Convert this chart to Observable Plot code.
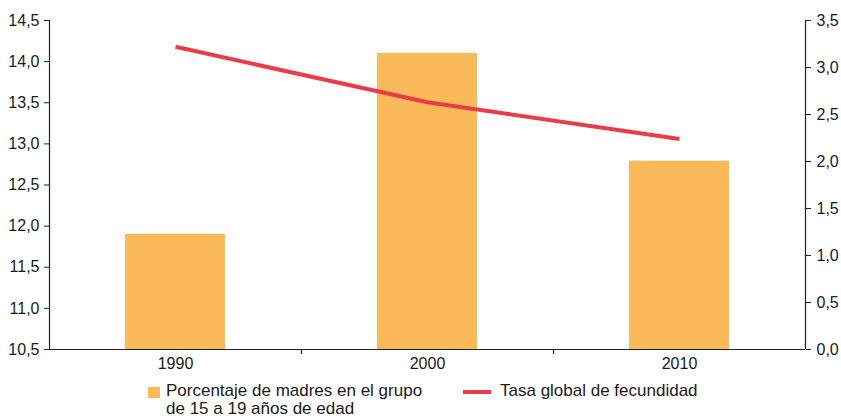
<!DOCTYPE html>
<html><head><meta charset="utf-8">
<script src="https://cdn.jsdelivr.net/npm/d3@7"></script>
<script src="https://cdn.jsdelivr.net/npm/@observablehq/plot@0.6"></script>
<style>
body{margin:0;background:#fff;font-family:"Liberation Sans",Arial,sans-serif;overflow:hidden;}
#chart svg{display:block;}
#legend{position:relative;height:44px;font-size:17px;color:#1a1a1a;line-height:18px;}
.sw{position:absolute;left:148px;top:12px;width:12px;height:11px;background:#FBBA5A;}
.t1{position:absolute;left:166px;top:7px;}
.ln{position:absolute;left:463px;top:15px;width:28px;height:4px;background:#EB3B46;}
.t2{position:absolute;left:500px;top:7px;}
</style></head><body>
<div id="chart"></div>
<div id="legend">
  <div class="sw"></div><div class="t1">Porcentaje de madres en el grupo<br>de 15 a 19 años de edad</div>
  <div class="ln"></div><div class="t2">Tasa global de fecundidad</div>
</div>
<script>
const years = ["1990", "2000", "2010"];
const madres = [11.90, 14.10, 12.79];
const tasa = [3.22, 2.63, 2.24];
const leftTicks = [10.5, 11.0, 11.5, 12.0, 12.5, 13.0, 13.5, 14.0, 14.5];
const rightTicks = [0.0, 0.5, 1.0, 1.5, 2.0, 2.5, 3.0, 3.5];
const leftMin = 10.5, leftMax = 14.5, rightMin = 0, rightMax = 3.5;

const toLeft = v => leftMin + (v - rightMin) * (leftMax - leftMin) / (rightMax - rightMin);
const fromLeft = v => rightMin + (v - leftMin) * (rightMax - rightMin) / (leftMax - leftMin);
const fmt = v => v.toFixed(1).replace(".", ",");

const bars = years.map((y, i) => ({year: y, value: madres[i]}));
const line = years.map((y, i) => ({year: y, value: toLeft(tasa[i])}));

const W = 841, ML = 49, MR = 36;
const step = (W - ML - MR) / years.length;

const chart = Plot.plot({
  width: W,
  height: 375,
  marginLeft: ML,
  marginRight: MR,
  marginTop: 20,
  marginBottom: 26,
  style: {fontFamily: "Liberation Sans, Arial, sans-serif", fontSize: "16px", color: "#1a1a1a", background: "#fff"},
  x: {domain: years, padding: 0},
  y: {domain: [leftMin, leftMax]},
  marks: [
    Plot.barY(bars, {x: "year", y1: leftMin, y2: "value", fill: "#FBBA5A", insetLeft: 76, insetRight: 76}),
    Plot.line(line, {x: "year", y: "value", stroke: "#EB3B46", strokeWidth: 4, strokeLinecap: "butt"}),
    Plot.ruleY([leftMin], {stroke: "#222", strokeWidth: 1.2}),
    Plot.ruleX([years[0]], {dx: -step / 2, stroke: "#222", strokeWidth: 1.2}),
    Plot.ruleX([years[years.length - 1]], {dx: step / 2, stroke: "#222", strokeWidth: 1.2}),
    Plot.ruleX(years.slice(1), {dx: -step / 2, y1: leftMin, y2: leftMin, insetBottom: -5, stroke: "#222", strokeWidth: 1.2}),
    Plot.axisX({tickSize: 0, tickPadding: 8, label: null, fontSize: 16}),
    Plot.axisY({anchor: "left", ticks: leftTicks, tickFormat: fmt, tickSize: 5, tickPadding: 5, label: null, stroke: "#222", fontSize: 16}),
    Plot.axisY({anchor: "right", ticks: rightTicks.map(toLeft), tickFormat: v => fmt(fromLeft(v)), tickSize: 5, tickPadding: 6, label: null, stroke: "#222", fontSize: 16})
  ]
});
document.getElementById("chart").appendChild(chart);
</script>
</body></html>
